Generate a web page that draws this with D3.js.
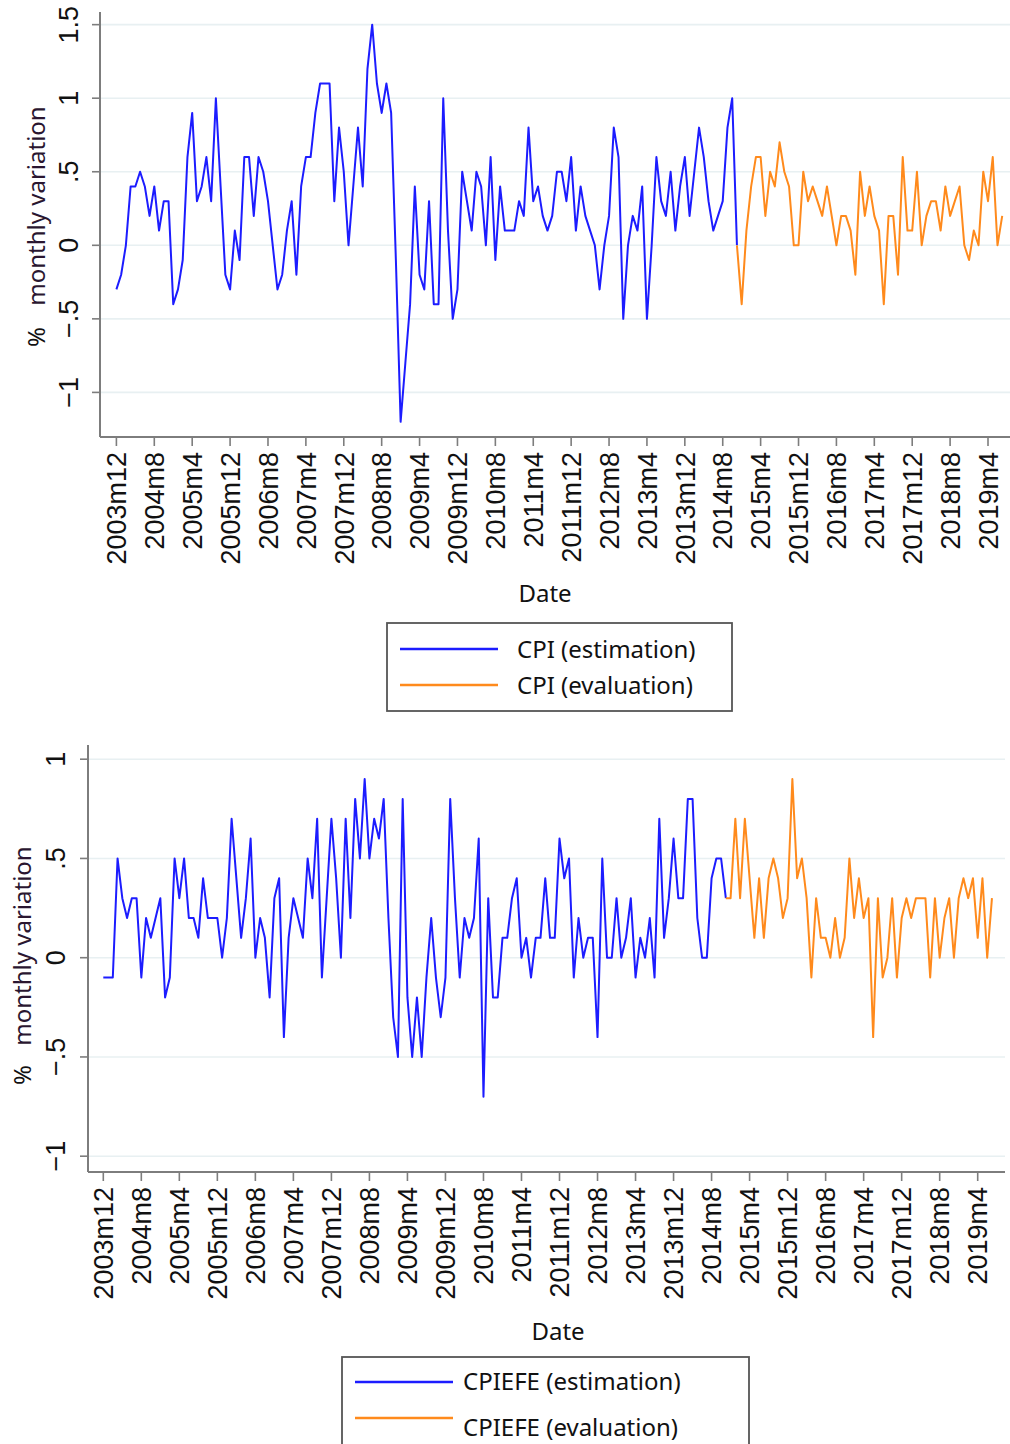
<!DOCTYPE html>
<html>
<head>
<meta charset="utf-8">
<script src="https://cdn.jsdelivr.net/npm/d3@7"></script>
<style>
  html, body { margin: 0; padding: 0; background: #fff; }
  svg { display: block; }
</style>
</head>
<body>
<svg id="chart" width="1010" height="1444"></svg>
<script>
// ---------------- DATA ----------------
const startMonth = "2003m12";
const xTickLabels = ["2003m12","2004m8","2005m4","2005m12","2006m8","2007m4","2007m12","2008m8",
  "2009m4","2009m12","2010m8","2011m4","2011m12","2012m8","2013m4","2013m12","2014m8","2015m4",
  "2015m12","2016m8","2017m4","2017m12","2018m8","2019m4"];
const yTicksTop = [-1, -0.5, 0, 0.5, 1, 1.5];
const yTicksBottom = [-1, -0.5, 0, 0.5, 1];

// CPI, 2003m12 .. 2014m11
const cpiEstimation = [-0.3,-0.2,0.0,0.4,0.4,0.5,0.4,0.2,0.4,0.1,0.3,0.3,-0.4,-0.3,-0.1,0.6,0.9,0.3,0.4,0.6,
  0.3,1.0,0.4,-0.2,-0.3,0.1,-0.1,0.6,0.6,0.2,0.6,0.5,0.3,0.0,-0.3,-0.2,0.1,0.3,-0.2,0.4,
  0.6,0.6,0.9,1.1,1.1,1.1,0.3,0.8,0.5,0.0,0.4,0.8,0.4,1.2,1.5,1.1,0.9,1.1,0.9,-0.1,
  -1.2,-0.8,-0.4,0.4,-0.2,-0.3,0.3,-0.4,-0.4,1.0,0.1,-0.5,-0.3,0.5,0.3,0.1,0.5,0.4,0.0,0.6,
  -0.1,0.4,0.1,0.1,0.1,0.3,0.2,0.8,0.3,0.4,0.2,0.1,0.2,0.5,0.5,0.3,0.6,0.1,0.4,0.2,
  0.1,0.0,-0.3,0.0,0.2,0.8,0.6,-0.5,0.0,0.2,0.1,0.4,-0.5,0.0,0.6,0.3,0.2,0.5,0.1,0.4,
  0.6,0.2,0.5,0.8,0.6,0.3,0.1,0.2,0.3,0.8,1.0,0.0];
// CPI, 2014m11 .. 2019m7
const cpiEvaluation = [0.0,-0.4,0.1,0.4,0.6,0.6,0.2,0.5,0.4,0.7,0.5,0.4,0.0,0.0,0.5,0.3,0.4,0.3,0.2,0.4,
  0.2,0.0,0.2,0.2,0.1,-0.2,0.5,0.2,0.4,0.2,0.1,-0.4,0.2,0.2,-0.2,0.6,0.1,0.1,0.5,0.0,
  0.2,0.3,0.3,0.1,0.4,0.2,0.3,0.4,0.0,-0.1,0.1,0.0,0.5,0.3,0.6,0.0,0.2];
// CPIEFE, 2003m12 .. 2014m11
const coreEstimation = [-0.1,-0.1,-0.1,0.5,0.3,0.2,0.3,0.3,-0.1,0.2,0.1,0.2,0.3,-0.2,-0.1,0.5,0.3,0.5,0.2,0.2,
  0.1,0.4,0.2,0.2,0.2,0.0,0.2,0.7,0.4,0.1,0.3,0.6,0.0,0.2,0.1,-0.2,0.3,0.4,-0.4,0.1,
  0.3,0.2,0.1,0.5,0.3,0.7,-0.1,0.3,0.7,0.4,0.0,0.7,0.2,0.8,0.5,0.9,0.5,0.7,0.6,0.8,
  0.2,-0.3,-0.5,0.8,-0.2,-0.5,-0.2,-0.5,-0.1,0.2,-0.1,-0.3,-0.1,0.8,0.3,-0.1,0.2,0.1,0.2,0.6,
  -0.7,0.3,-0.2,-0.2,0.1,0.1,0.3,0.4,0.0,0.1,-0.1,0.1,0.1,0.4,0.1,0.1,0.6,0.4,0.5,-0.1,
  0.2,0.0,0.1,0.1,-0.4,0.5,0.0,0.0,0.3,0.0,0.1,0.3,-0.1,0.1,0.0,0.2,-0.1,0.7,0.1,0.3,
  0.6,0.3,0.3,0.8,0.8,0.2,0.0,0.0,0.4,0.5,0.5,0.3];
// CPIEFE, 2014m11 .. 2019m7
const coreEvaluation = [0.3,0.3,0.7,0.3,0.7,0.4,0.1,0.4,0.1,0.4,0.5,0.4,0.2,0.3,0.9,0.4,0.5,0.3,-0.1,0.3,
  0.1,0.1,0.0,0.2,0.0,0.1,0.5,0.2,0.4,0.2,0.3,-0.4,0.3,-0.1,0.0,0.3,-0.1,0.2,0.3,0.2,
  0.3,0.3,0.3,-0.1,0.3,0.0,0.2,0.3,0.0,0.3,0.4,0.3,0.4,0.1,0.4,0.0,0.3];

const legendTop = ["CPI (estimation)", "CPI (evaluation)"];
const legendBottom = ["CPIEFE (estimation)", "CPIEFE (evaluation)"];

// ---------------- HELPERS ----------------
const BLUE = "#1c1cff", ORANGE = "#ff8a1c";
const AXIS = "#7d7d7d", GRID = "#e8f0f2";
const TICKFONT = "'Liberation Sans', Arial, sans-serif";
const TEXTFONT = "'Noto Sans', 'Open Sans', sans-serif";

function monthIndex(label) {
  const [y, m] = label.split("m").map(Number);
  const [y0, m0] = startMonth.split("m").map(Number);
  return (y * 12 + m) - (y0 * 12 + m0);
}
function fmtY(v) {
  if (v === 0) return "0";
  const s = String(Math.abs(v)).replace(/^0\./, ".");
  return (v < 0 ? "\u2212" : "") + s;
}

const svg = d3.select("#chart");

function drawPanel(cfg) {
  const g = svg.append("g");
  const x = d3.scaleLinear()
    .domain([monthIndex(xTickLabels[0]), monthIndex(xTickLabels[xTickLabels.length - 1])])
    .range(cfg.xRange);
  const y = d3.scaleLinear().domain([-1, 1]).range(cfg.yRange);

  // gridlines
  g.append("g").selectAll("line").data(cfg.yTicks).join("line")
    .attr("x1", cfg.axisX + 1).attr("x2", cfg.rightX)
    .attr("y1", d => y(d)).attr("y2", d => y(d))
    .attr("stroke", GRID).attr("stroke-width", 1.6);

  // axes lines
  g.append("line").attr("x1", cfg.axisX).attr("x2", cfg.axisX)
    .attr("y1", cfg.plotTop).attr("y2", cfg.axisY)
    .attr("stroke", AXIS).attr("stroke-width", 2);
  g.append("line").attr("x1", cfg.axisX).attr("x2", cfg.rightX)
    .attr("y1", cfg.axisY).attr("y2", cfg.axisY)
    .attr("stroke", AXIS).attr("stroke-width", 2);

  // y ticks
  g.append("g").selectAll("line").data(cfg.yTicks).join("line")
    .attr("x1", cfg.axisX - 8).attr("x2", cfg.axisX)
    .attr("y1", d => y(d)).attr("y2", d => y(d))
    .attr("stroke", AXIS).attr("stroke-width", 1.6);
  g.append("g").selectAll("text").data(cfg.yTicks).join("text")
    .attr("transform", d => `translate(${cfg.yLabelX},${y(d)}) rotate(-90)`)
    .attr("text-anchor", "middle").attr("dy", "0.36em")
    .attr("font-family", TICKFONT).attr("font-size", cfg.tickSize)
    .attr("fill", "#111").text(fmtY);

  // x ticks
  g.append("g").selectAll("line").data(xTickLabels).join("line")
    .attr("x1", d => x(monthIndex(d))).attr("x2", d => x(monthIndex(d)))
    .attr("y1", cfg.axisY).attr("y2", cfg.axisY + 9)
    .attr("stroke", AXIS).attr("stroke-width", 1.6);
  g.append("g").selectAll("text").data(xTickLabels).join("text")
    .attr("transform", d => `translate(${x(monthIndex(d))},${cfg.axisY + 15}) rotate(-90)`)
    .attr("text-anchor", "end").attr("dy", "0.36em")
    .attr("font-family", TICKFONT).attr("font-size", cfg.tickSize)
    .attr("fill", "#111").text(d => d);

  // axis titles
  g.append("text")
    .attr("transform", `translate(${cfg.titleX},${cfg.monthlyY}) rotate(-90)`)
    .attr("text-anchor", "middle").attr("dy", "0.36em")
    .attr("font-family", TEXTFONT).attr("font-size", 24).attr("fill", "#2a1630")
    .text("monthly variation");
  g.append("text")
    .attr("transform", `translate(${cfg.titleX},${cfg.pctY}) rotate(-90)`)
    .attr("text-anchor", "middle").attr("dy", "0.36em")
    .attr("font-family", TEXTFONT).attr("font-size", 24).attr("fill", "#111")
    .text("%");
  g.append("text")
    .attr("x", cfg.dateX).attr("y", cfg.dateY)
    .attr("text-anchor", "middle").attr("dy", "0.36em")
    .attr("font-family", TEXTFONT).attr("font-size", 24).attr("fill", "#111")
    .text("Date");

  // series
  const est = cfg.est.map((v, i) => ({ m: i, v }));
  const off = cfg.est.length - 1;
  const ev = cfg.ev.map((v, i) => ({ m: off + i, v }));
  const line = d3.line().x(d => x(d.m)).y(d => y(d.v));
  g.append("path").datum(est).attr("d", line)
    .attr("fill", "none").attr("stroke", BLUE).attr("stroke-width", 2)
    .attr("stroke-linejoin", "round");
  g.append("path").datum(ev).attr("d", line)
    .attr("fill", "none").attr("stroke", ORANGE).attr("stroke-width", 2)
    .attr("stroke-linejoin", "round");

  // legend
  const L = cfg.legend;
  g.append("rect").attr("x", L.x).attr("y", L.y).attr("width", L.w).attr("height", L.h)
    .attr("fill", "#fff").attr("stroke", "#555").attr("stroke-width", 1.8);
  const items = [{ t: cfg.legendText[0], c: BLUE, ly: L.y1, ty: L.t1 },
                 { t: cfg.legendText[1], c: ORANGE, ly: L.y2, ty: L.t2 }];
  items.forEach(it => {
    g.append("line").attr("x1", L.lx1).attr("x2", L.lx2)
      .attr("y1", it.ly).attr("y2", it.ly)
      .attr("stroke", it.c).attr("stroke-width", 2.4);
    g.append("text").attr("x", L.tx).attr("y", it.ty).attr("dy", "0.36em")
      .attr("font-family", TEXTFONT).attr("font-size", 24).attr("fill", "#111")
      .text(it.t);
  });
}

drawPanel({
  est: cpiEstimation, ev: cpiEvaluation, yTicks: yTicksTop,
  xRange: [116.4, 988], yRange: [392.4, 98.2],
  axisX: 100, rightX: 1010, plotTop: 12, axisY: 437,
  yLabelX: 68, tickSize: 27, titleX: 36, monthlyY: 206, pctY: 337,
  dateX: 545, dateY: 593,
  legendText: legendTop,
  legend: { x: 387, y: 623, w: 345, h: 88, y1: 649, y2: 685, t1: 649, t2: 685,
            lx1: 400, lx2: 498, tx: 517 }
});
drawPanel({
  est: coreEstimation, ev: coreEvaluation, yTicks: yTicksBottom,
  xRange: [103.3, 977.7], yRange: [1156.2, 759.2],
  axisX: 88, rightX: 1005, plotTop: 745, axisY: 1172,
  yLabelX: 55, tickSize: 27, titleX: 22, monthlyY: 946, pctY: 1075,
  dateX: 558, dateY: 1331,
  legendText: legendBottom,
  legend: { x: 342, y: 1357, w: 407, h: 95, y1: 1382, y2: 1418, t1: 1381, t2: 1427,
            lx1: 355, lx2: 453, tx: 463 }
});
</script>
</body>
</html>
